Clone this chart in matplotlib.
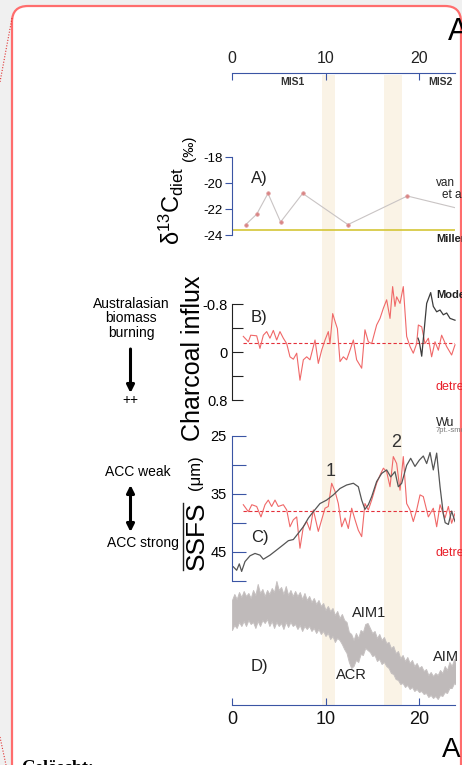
"""Stacked palaeo-record panels (A-D) against age, cropped page view."""

import matplotlib

matplotlib.use("Agg")
import matplotlib.pyplot as plt
from matplotlib.lines import Line2D
from matplotlib.patches import FancyArrowPatch, FancyBboxPatch

W, H = 462, 765
XMAX = 23.85

BLUE = "#3a55a4"
RED = "#f06868"
RED_DASH = "#e4303a"
DARK = "#3c3c3c"
BAND = "#faf3e6"

# --- data -----------------------------------------------------------------
bands = [(9.6, 11.0), (16.3, 18.15)]

# A) d13C diet
age_a = [1.47, 2.64, 3.85, 5.2, 7.56, 12.4, 18.75, 25.0]
d13c_a = [-23.2, -22.4, -20.8, -23.0, -20.8, -23.2, -21.0, -22.1]
miller_a = -23.6

# B) charcoal influx (detrended) + model
age_b = [1.21, 1.75, 2.00, 2.64, 2.99, 3.35, 3.71, 4.06, 4.42, 4.78, 5.13, 5.49,
         5.85, 6.20, 6.56, 6.92, 7.27, 7.63, 7.99, 8.34, 8.88, 9.23, 9.59, 9.95,
         10.30, 10.48, 10.77, 11.02, 11.27, 11.55, 11.91, 12.26, 12.62, 12.98,
         13.33, 13.87, 14.22, 14.58, 14.94, 15.47, 15.83, 16.19, 16.54, 16.90,
         17.18, 17.43, 17.61, 17.97, 18.32, 18.68, 19.04, 19.39, 19.75, 19.93,
         20.29, 20.64, 21.00, 21.35, 21.71, 22.07, 22.42, 22.96, 23.49, 23.85]
charcoal_b = [-0.26, -0.17, -0.28, -0.27, -0.06, -0.28, -0.34, -0.23, -0.36, -0.20,
              -0.34, -0.23, -0.14, 0.08, 0.12, 0.02, 0.47, 0.13, 0.08, 0.13, -0.20,
              0.19, -0.03, -0.20, -0.34, -0.14, -0.64, -0.51, -0.39, 0.16, 0.08,
              0.13, -0.03, -0.20, 0.13, 0.27, -0.37, -0.17, -0.14, -0.45, -0.56,
              -0.73, -0.87, -0.56, -1.09, -0.76, -0.92, -0.81, -1.09, -0.26, -0.09,
              0.02, -0.14, -0.45, -0.42, -0.14, -0.23, 0.08, -0.17, -0.03, -0.28,
              -0.09, 0.05, -0.12]
charcoal_mean = -0.15
age_model = [19.90, 20.03, 20.29, 20.82, 21.25, 21.53, 21.89, 22.25, 22.60, 22.96,
             23.32, 23.85]
model_b = [-0.23, -0.17, 0.07, -0.81, -0.99, -0.76, -0.67, -0.70, -0.62, -0.65,
           -0.56, -0.53]

# C) sortable silt mean grain size
age_c = [1.21, 1.75, 2.12, 2.64, 3.10, 3.53, 3.88, 4.24, 4.60, 4.95, 5.49, 5.85,
         6.20, 6.56, 6.92, 7.27, 7.63, 7.99, 8.34, 8.70, 9.23, 9.59, 9.95, 10.30,
         10.66, 11.02, 11.37, 11.73, 12.09, 12.44, 12.80, 13.16, 13.51, 13.87,
         14.22, 14.58, 14.94, 15.47, 15.83, 16.19, 16.54, 16.90, 17.25, 17.61,
         17.97, 18.32, 18.68, 19.04, 19.39, 19.75, 20.11, 20.46, 21.00, 21.53,
         21.89, 22.25, 22.78, 23.14, 23.49, 23.85]
ssfs_detr = [36.9, 38.1, 36.9, 37.2, 39.0, 36.9, 36.1, 37.2, 36.1, 37.2, 36.9, 37.8,
             40.7, 39.5, 39.0, 44.4, 40.7, 39.8, 41.3, 37.8, 41.5, 39.5, 37.5, 37.2,
             33.2, 34.6, 36.7, 40.7, 39.2, 41.0, 37.5, 39.5, 41.3, 42.4, 36.7, 37.8,
             36.1, 33.2, 31.8, 30.6, 31.2, 33.8, 28.6, 29.8, 34.4, 28.6, 36.7, 37.8,
             39.8, 37.8, 35.2, 35.5, 39.0, 37.5, 40.7, 36.9, 39.2, 37.2, 40.1, 38.4]
ssfs_mean = 38.0
age_wu = [0.14, 0.50, 0.78, 1.03, 1.39, 1.93, 2.46, 3.00, 3.35, 4.06, 4.78, 5.49,
          6.03, 6.56, 7.10, 7.63, 8.17, 8.70, 9.41, 10.12, 10.84, 11.55, 12.26,
          12.98, 13.51, 13.87, 14.22, 14.58, 14.94, 15.47, 16.01, 16.54, 16.97,
          17.43, 17.79, 18.15, 18.68, 19.11, 19.57, 20.04, 20.46, 20.82, 21.18,
          21.53, 21.89, 22.25, 22.60, 22.80, 23.14, 23.49, 23.85]
ssfs_wu = [47.6, 48.2, 47.1, 48.4, 46.7, 45.7, 45.3, 45.6, 46.3, 45.6, 44.7, 43.8,
           43.1, 42.9, 41.8, 40.7, 39.2, 38.1, 36.7, 36.1, 35.2, 34.1, 33.5, 33.2,
           33.8, 36.1, 37.7, 36.9, 35.5, 32.9, 31.5, 30.9, 32.1, 31.2, 33.8, 33.2,
           30.1, 28.9, 30.3, 29.2, 28.5, 29.8, 27.9, 30.9, 28.0, 33.8, 38.5, 40.0,
           40.3, 38.0, 39.8]

# D) ice-core record, upper / lower envelope of the dense trace
age_d = [0.0, 0.25, 0.5, 0.75, 1.0, 1.25, 1.5, 1.75, 2.0, 2.25, 2.5, 2.75, 3.0,
         3.25, 3.5, 3.75, 4.0, 4.25, 4.5, 4.75, 5.0, 5.25, 5.5, 5.75, 6.0, 6.25,
         6.5, 6.75, 7.0, 7.25, 7.5, 7.75, 8.0, 8.25, 8.5, 8.75, 9.0, 9.25, 9.5,
         9.75, 10.0, 10.25, 10.5, 10.75, 11.0, 11.25, 11.5, 11.75, 12.0, 12.25,
         12.5, 12.75, 13.0, 13.25, 13.5, 13.75, 14.0, 14.25, 14.5, 14.75, 15.0,
         15.25, 15.5, 15.75, 16.0, 16.25, 16.5, 16.75, 17.0, 17.25, 17.5, 17.75,
         18.0, 18.25, 18.5, 18.75, 19.0, 19.25, 19.5, 19.75, 20.0, 20.25, 20.5,
         20.75, 21.0, 21.25, 21.5, 21.75, 22.0, 22.25, 22.5, 22.75, 23.0, 23.25,
         23.5, 23.75, 24.0]
d18o_hi = [-43.0, -42.4, -42.9, -42.2, -42.7, -42.1, -42.6, -42.3, -42.8, -42.0,
           -42.5, -41.4, -42.3, -41.9, -42.6, -42.0, -42.4, -41.8, -42.2, -41.1,
           -42.0, -41.7, -42.4, -41.6, -42.5, -42.0, -42.6, -42.1, -42.6, -42.2,
           -42.9, -42.3, -43.0, -42.6, -43.2, -42.8, -43.4, -43.0, -43.6, -43.3,
           -44.0, -43.6, -44.1, -43.8, -44.5, -44.1, -44.8, -44.4, -45.0, -45.2,
           -46.2, -46.4, -47.0, -46.3, -46.8, -46.0, -46.2, -45.4, -45.3, -45.8,
           -46.3, -46.1, -46.8, -46.4, -47.0, -46.7, -47.3, -47.2, -47.8, -47.6,
           -48.3, -48.1, -48.8, -48.5, -49.1, -48.7, -49.3, -49.0, -49.6, -49.3,
           -49.8, -49.6, -50.1, -49.9, -50.5, -50.2, -50.6, -50.3, -50.5, -50.0,
           -50.3, -49.6, -50.0, -49.2, -49.6, -48.9, -49.4]
d18o_lo = [-46.0, -45.5, -45.8, -45.2, -45.6, -45.1, -45.6, -45.0, -45.4, -45.2,
           -45.8, -45.1, -45.6, -45.0, -45.3, -44.9, -45.6, -45.1, -45.8, -45.2,
           -45.6, -45.3, -45.9, -45.2, -45.7, -45.2, -45.6, -45.4, -45.9, -45.5,
           -46.1, -45.6, -45.9, -45.6, -46.1, -45.8, -46.3, -45.9, -46.4, -46.1,
           -46.6, -46.3, -46.9, -46.6, -47.2, -46.8, -47.0, -47.4, -47.9, -48.3,
           -49.2, -49.8, -49.6, -49.0, -49.2, -48.4, -48.5, -47.8, -48.0, -48.2,
           -48.6, -48.5, -49.1, -48.9, -49.4, -49.2, -49.6, -49.8, -50.3, -50.4,
           -50.9, -51.0, -51.4, -51.3, -51.7, -51.5, -51.9, -51.7, -52.1, -51.9,
           -52.2, -52.1, -52.4, -52.3, -52.7, -52.5, -52.8, -52.6, -52.9, -52.5,
           -52.6, -52.2, -52.3, -51.8, -51.8, -51.3, -51.5]

age_ticks = [0, 10, 20]

# --- figure ---------------------------------------------------------------
plt.rcParams["font.family"] = ["Liberation Sans", "DejaVu Sans"]
plt.rcParams["mathtext.fontset"] = "custom"
plt.rcParams["mathtext.rm"] = "Liberation Sans"
plt.rcParams["mathtext.it"] = "Liberation Sans:italic"
plt.rcParams["axes.unicode_minus"] = False

fig = plt.figure(figsize=(W / 100, H / 100), dpi=100, facecolor="#f0f0f0")


def add_ax(left, top, right, bottom):
    ax = fig.add_axes([left / W, 1 - bottom / H, (right - left) / W, (bottom - top) / H])
    ax.set_facecolor("none")
    ax.set_xlim(0, XMAX)
    for s in ax.spines.values():
        s.set_visible(False)
    ax.set_xticks([])
    ax.set_yticks([])
    return ax


def label(x, y, s, **kw):
    kw.setdefault("ha", "center")
    kw.setdefault("va", "center")
    fig.text(x / W, 1 - y / H, s, **kw)


# page with tracked-change frame
page = FancyBboxPatch((0.12, -0.5), 4.49, 8.09, boxstyle="round,pad=0,rounding_size=0.16",
                      transform=fig.dpi_scale_trans, facecolor="white",
                      edgecolor="#ff6d6d", lw=1.6, zorder=-5)
fig.patches.append(page)
for xs, ys in [((12, 0), (18, 82)), ((0, 6), (737, 765))]:
    fig.lines.append(Line2D([x / W for x in xs], [1 - y / H for y in ys],
                            transform=fig.transFigure, color="#e03030",
                            ls=(0, (1, 1.5)), lw=0.8))

# shaded events
ax_bg = add_ax(232, 75, 455, 705)
ax_bg.axis("off")
for a0, a1 in bands:
    ax_bg.axvspan(a0, a1, color=BAND, lw=0)

# top age axis
ax_top = add_ax(232, 73, 455, 74)
ax_top.spines["top"].set_visible(True)
ax_top.spines["top"].set_color(BLUE)
ax_top.xaxis.tick_top()
ax_top.set_xticks(age_ticks)
ax_top.tick_params(axis="x", direction="in", length=5, color=BLUE, labelsize=11.5,
                   pad=5, labelcolor="#222222")

# A
ax_a = add_ax(232, 157, 455, 235)
ax_a.set_ylim(-24, -18)
ax_a.spines["left"].set_visible(True)
ax_a.spines["left"].set_color(BLUE)
ax_a.set_yticks([-18, -20, -22, -24])
ax_a.tick_params(axis="y", direction="out", length=5, color=BLUE, labelsize=9.5, pad=1.5)
ax_a.axhline(miller_a, color="#d4c636", lw=1.2)
ax_a.plot(age_a, d13c_a, color="#c9c4c4", lw=0.8, marker="o", ms=2.6,
          mfc="#d98585", mec="#e0a0a0", mew=0.5)

# B
ax_b = add_ax(232, 304, 455, 400)
ax_b.set_ylim(0.8, -0.8)
ax_b.spines["left"].set_visible(True)
ax_b.spines["left"].set_color("#222222")
ax_b.set_yticks([-0.8, -0.4, 0, 0.4, 0.8])
ax_b.set_yticklabels(["-0.8", "", "0", "", "0.8"])
ax_b.tick_params(axis="y", direction="in", length=8, color="#222222", labelsize=10.5, pad=3)
ax_b.plot([age_b[0], XMAX], [charcoal_mean] * 2, color=RED_DASH, lw=0.8, ls=(0, (3, 2)))
ax_b.plot(age_b, charcoal_b, color=RED, lw=0.8, clip_on=False)
ax_b.plot(age_model, model_b, color=DARK, lw=0.9, clip_on=False)

# C
ax_c = add_ax(232, 435.7, 455, 580.7)
ax_c.set_ylim(50, 25)
ax_c.spines["left"].set_visible(True)
ax_c.spines["left"].set_color(BLUE)
ax_c.set_yticks([25, 30, 35, 40, 45, 50])
ax_c.set_yticklabels(["25", "", "35", "", "45", ""])
ax_c.tick_params(axis="y", direction="in", length=10, color=BLUE, labelsize=10.5, pad=4)
ax_c.plot([age_c[0], XMAX], [ssfs_mean] * 2, color=RED_DASH, lw=0.8, ls=(0, (3, 2)))
ax_c.plot(age_c, ssfs_detr, color=RED, lw=0.8)
ax_c.plot(age_wu, ssfs_wu, color="#555555", lw=0.9)

# D
ax_d = add_ax(232, 580, 455, 705)
ax_d.set_ylim(-53.5, -41)
ax_d.fill_between(age_d, d18o_lo, d18o_hi, color="#bfbaba", lw=0.7, edgecolor="#c6c1c1")
ax_d.spines["bottom"].set_visible(True)
ax_d.spines["bottom"].set_color(BLUE)
ax_d.set_xticks(age_ticks)
ax_d.tick_params(axis="x", direction="in", length=5, color=BLUE, labelsize=13, pad=4,
                 labelcolor="#111111")

# --- texts ----------------------------------------------------------------
fig.text(448 / W, 1 - 40 / H, "A", fontsize=22, ha="left", va="baseline")
fig.text(442 / W, 1 - 757 / H, "A", fontsize=20, ha="left", va="baseline")
fig.text(21 / W, 1 - 773 / H, "Gelöscht:", fontsize=13, fontweight="bold",
         family=["Liberation Serif", "DejaVu Serif"], ha="left", va="baseline")

label(292, 82, "MIS1", fontsize=7.5, fontweight="bold", color="#333333")
label(428, 82, "MIS2", fontsize=7.5, fontweight="bold", color="#333333", ha="left")

for x, y, s in [(251, 178, "A)"), (251, 317.5, "B)"), (251, 537.5, "C)"), (251, 666, "D)")]:
    label(x, y, s, fontsize=12, ha="left", color="#222222")

label(331, 471.7, "1", fontsize=13, color="#333333")
label(395.7, 442.7, "2", fontsize=13, color="#333333")
label(369.3, 613.3, "AIM1", fontsize=10.5, color="#222222")
label(351.7, 675, "ACR", fontsize=10.5, color="#222222")
label(433, 656.7, "AIM", fontsize=10.5, color="#222222", ha="left")

label(436, 182.7, "van", fontsize=8.5, ha="left", color="#222222")
label(441.7, 195.3, "et al", fontsize=8.5, ha="left", color="#222222")
label(436, 239, "Miller", fontsize=8, fontweight="bold", ha="left", color="#222222")
label(436.7, 295, "Model", fontsize=8, fontweight="bold", ha="left", color="#222222")
label(435, 386.7, "detrended", fontsize=9, ha="left", color="#e8202a")
label(436, 423, "Wu", fontsize=9, ha="left", color="#222222")
label(436, 431, "7pt.-smooth", fontsize=5.5, ha="left", color="#777777")
label(435, 553.3, "detrended", fontsize=9, ha="left", color="#e8202a")

# axis titles
label(171, 206, "δ$^{13}$C$_{\\mathrm{diet}}$", fontsize=17, rotation=90)
label(189, 148, "(‰)", fontsize=11, rotation=90)
label(193, 358, "Charcoal influx", fontsize=18, rotation=90)
label(197, 536, "SSFS", fontsize=19, rotation=90)
label(196, 473, "(μm)", fontsize=12, rotation=90)
fig.lines.append(Line2D([182.7 / W] * 2, [1 - 503 / H, 1 - 570 / H],
                        transform=fig.transFigure, color="#222222", lw=1.0))

# left annotations
label(131, 304, "Australasian", fontsize=10)
label(131, 318, "biomass", fontsize=10)
label(131, 333, "burning", fontsize=10)
label(130, 400, "++", fontsize=10)
label(138, 472, "ACC weak", fontsize=10)
label(142.5, 543, "ACC strong", fontsize=10)

for style, (y0, y1) in [("-|>", (349, 393)), ("<|-|>", (485, 532))]:
    fig.patches.append(FancyArrowPatch((130.5 / W, 1 - y0 / H), (130.5 / W, 1 - y1 / H),
                                       transform=fig.transFigure, arrowstyle=style,
                                       mutation_scale=11, lw=2.2, color="black",
                                       shrinkA=0, shrinkB=0))

fig.savefig("out.png", dpi=100, facecolor=fig.get_facecolor())
